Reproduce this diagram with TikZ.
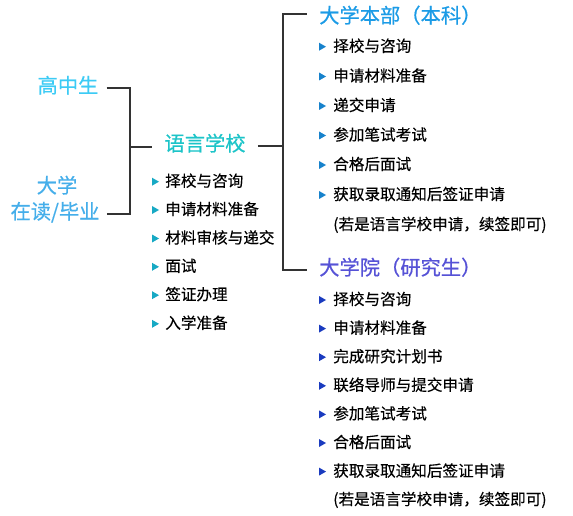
\documentclass[tikz,border=0pt]{standalone}
\usepackage{fontspec}
\setmainfont{Noto Sans CJK SC}
\newfontfamily\headfont[FakeBold=0.6]{Noto Sans CJK SC}
\newfontfamily\itemfont[FakeBold=0.3]{Noto Sans CJK SC}
\definecolor{cHS}{HTML}{3CCBF5}
\definecolor{cUN}{HTML}{45AEEA}
\definecolor{cLS}{HTML}{1CC4C8}
\definecolor{cUG}{HTML}{1B9BE6}
\definecolor{cGS}{HTML}{5652D6}
\definecolor{triA}{HTML}{17A9C4}
\definecolor{triB}{HTML}{1782CC}
\definecolor{triC}{HTML}{1A3BBF}
\definecolor{linegray}{HTML}{333333}
\begin{document}
\begin{tikzpicture}[x=0.75pt,y=-0.75pt,
  conn/.style={draw=linegray,line width=1.4pt},
  item/.style={anchor=west,inner sep=0pt,text height=0.84em,text depth=0.1em,font=\itemfont\fontsize{11.7}{14}\selectfont,text=black},
  head/.style={inner sep=0pt,text height=0.84em,text depth=0.1em,font=\headfont\fontsize{15.2}{18}\selectfont}]
\path[use as bounding box] (0,0) rectangle (573,516);
% headings
\node[head,text=cHS] (hs) at (68,88) {高中生};
\node[head,text=cUN] (una) at (57,188) {大学};
\node[head,text=cUN] (unb) at (55,214) {在读/毕业};
\node[head,text=cLS] (ls) at (205,146) {语言学校};
\node[head,text=cUG,anchor=west] (ug) at (319,18) {大学本部（本科）};
\node[head,text=cGS,anchor=west] (gs) at (319,270) {大学院（研究生）};
\coordinate (j1) at (130,147);
\coordinate (j2) at (283,146);
% connectors
\draw[conn] (hs.east) ++(8,0) -| (j1);
\draw[conn] (unb.east) ++(7,0) -| (j1);
\draw[conn,shorten >=9pt] (j1) -- (ls.west |- j1);
\draw[conn,shorten <=9pt] (ls.east |- j2) -- (j2);
\draw[conn,shorten >=9pt] (j2) |- ([yshift=3pt]ug.west);
\draw[conn,shorten >=9pt] (j2) |- (gs.west);
% language school items
\foreach \t/\y [count=\i] in {择校与咨询/181.7,申请材料准备/210,材料审核与递交/238.5,面试/266.8,签证办理/295.2,入学准备/323.8} {
  \node[item] (ls\i) at (165,\y) {\t};
  \fill[triA] (ls\i.west) ++(-13,-4) -- ++(0,8) -- ++(7,-4) -- cycle;
}
% undergraduate items
\foreach \t/\y [count=\i] in {择校与咨询/46.7,申请材料准备/76.5,递交申请/106,参加笔试考试/135.5,合格后面试/165,获取录取通知后签证申请/195} {
  \node[item] (ug\i) at (333,\y) {\t};
  \fill[triB] (ug\i.west) ++(-14,-4) -- ++(0,8) -- ++(7,-4) -- cycle;
}
\node[item] (ugn) at (333,225) {(若是语言学校申请，续签即可)};
% graduate items
\foreach \t/\y [count=\i] in {择校与咨询/300,申请材料准备/328.6,完成研究计划书/357.2,联络导师与提交申请/385.8,参加笔试考试/414.4,合格后面试/443,获取录取通知后签证申请/471.6} {
  \node[item] (gs\i) at (333,\y) {\t};
  \fill[triC] (gs\i.west) ++(-14,-4) -- ++(0,8) -- ++(7,-4) -- cycle;
}
\node[item] (gsn) at (333,500) {(若是语言学校申请，续签即可)};
\end{tikzpicture}
\end{document}
